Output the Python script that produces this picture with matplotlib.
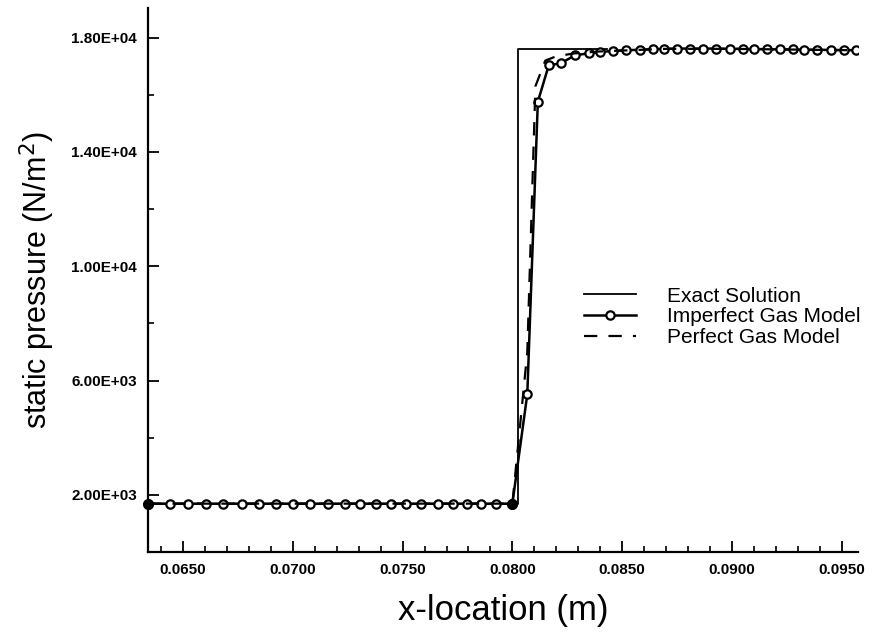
import matplotlib
matplotlib.use("Agg")
import matplotlib.pyplot as plt
from matplotlib.ticker import MultipleLocator, FormatStrFormatter

# exact solution (step)
exact_x = [0.0634, 0.08027, 0.08027, 0.0843]
exact_p = [1690, 1690, 17620, 17620]

# imperfect gas model points
imp_x = [0.0634, 0.06438, 0.06521, 0.06603, 0.06683, 0.06767, 0.06845, 0.06923,
         0.07001, 0.07080, 0.07158, 0.07236, 0.07305, 0.07380, 0.07449, 0.07517,
         0.07585, 0.07660, 0.07729, 0.07792, 0.07858, 0.07926, 0.0800,
         0.08068, 0.08116, 0.08166, 0.0822, 0.08286, 0.08347, 0.0840,
         0.0846, 0.0852, 0.0858, 0.0864, 0.0869, 0.0875, 0.0881, 0.0887,
         0.0893, 0.0899, 0.0905, 0.0910, 0.0916, 0.0922, 0.0928, 0.0933,
         0.0939, 0.0945, 0.0951, 0.09567]
imp_p = [1690, 1690, 1690, 1690, 1690, 1690, 1690, 1690,
         1690, 1690, 1690, 1690, 1690, 1690, 1690, 1690,
         1690, 1690, 1690, 1690, 1690, 1690, 1690,
         5520, 15760, 17040, 17100, 17390, 17450, 17500,
         17540, 17560, 17580, 17600, 17610, 17620, 17620, 17620,
         17620, 17610, 17610, 17600, 17600, 17590, 17590, 17580,
         17580, 17570, 17570, 17560]
filled_idx = [0, 22]

# perfect gas model
perf_x = [0.0634, 0.0800, 0.08068, 0.08105, 0.08150, 0.0820, 0.0828, 0.0840,
          0.0870, 0.0900, 0.09567]
perf_p = [1690, 1690, 7000, 16300, 17200, 17350, 17450, 17520,
          17610, 17610, 17560]

xticks = [0.065, 0.070, 0.075, 0.080, 0.085, 0.090, 0.095]
xticklabels = ["0.0650", "0.0700", "0.0750", "0.0800", "0.0850", "0.0900", "0.0950"]
yticks = [2000, 6000, 10000, 14000, 18000]

fig = plt.figure(figsize=(8.76, 6.44), dpi=100)
ax = fig.add_axes([0.169, 0.143, 0.810, 0.845])

ax.plot(exact_x, exact_p, color="black", lw=1.3, label="Exact Solution")
ax.plot(imp_x, imp_p, color="black", lw=1.8, marker="o", ms=6,
        mfc="white", mec="black", mew=1.6, label="Imperfect Gas Model")
ax.plot(perf_x, perf_p, color="black", lw=1.6, ls=(0, (6, 5)), label="Perfect Gas Model")
ax.plot([imp_x[i] for i in filled_idx], [imp_p[i] for i in filled_idx],
        ls="none", marker="o", ms=7, color="black", clip_on=False, zorder=5)

ax.set_xlim(0.0634, 0.09573)
ax.set_ylim(0, 19050)

for s in ["top", "right"]:
    ax.spines[s].set_visible(False)
for s in ["left", "bottom"]:
    ax.spines[s].set_linewidth(1.6)

ax.set_xticks(xticks)
ax.set_xticklabels(xticklabels)
ax.xaxis.set_minor_locator(MultipleLocator(0.001))
ax.set_yticks(yticks)
ax.yaxis.set_major_formatter(FormatStrFormatter("%.2E"))
ax.yaxis.set_minor_locator(MultipleLocator(2000))
ax.tick_params(which="major", direction="in", length=8, width=1.3,
               labelsize=11, pad=8)
ax.tick_params(which="minor", direction="in", length=4, width=1.2)
for lab in ax.get_xticklabels() + ax.get_yticklabels():
    lab.set_fontweight("bold")
    lab.set_family("Liberation Sans")

ax.set_xlabel("x-location (m)", fontsize=25, family="Liberation Sans", labelpad=12)
ax.set_ylabel("static pressure (N/m$^2$)", fontsize=22, family="Liberation Sans", labelpad=10)

leg = ax.legend(loc="upper left", bbox_to_anchor=(0.588, 0.522), frameon=False,
                handlelength=2.5, handletextpad=1.5, labelspacing=0.08,
                prop={"family": "Liberation Sans", "size": 15})

fig.savefig("out.png", dpi=100)
